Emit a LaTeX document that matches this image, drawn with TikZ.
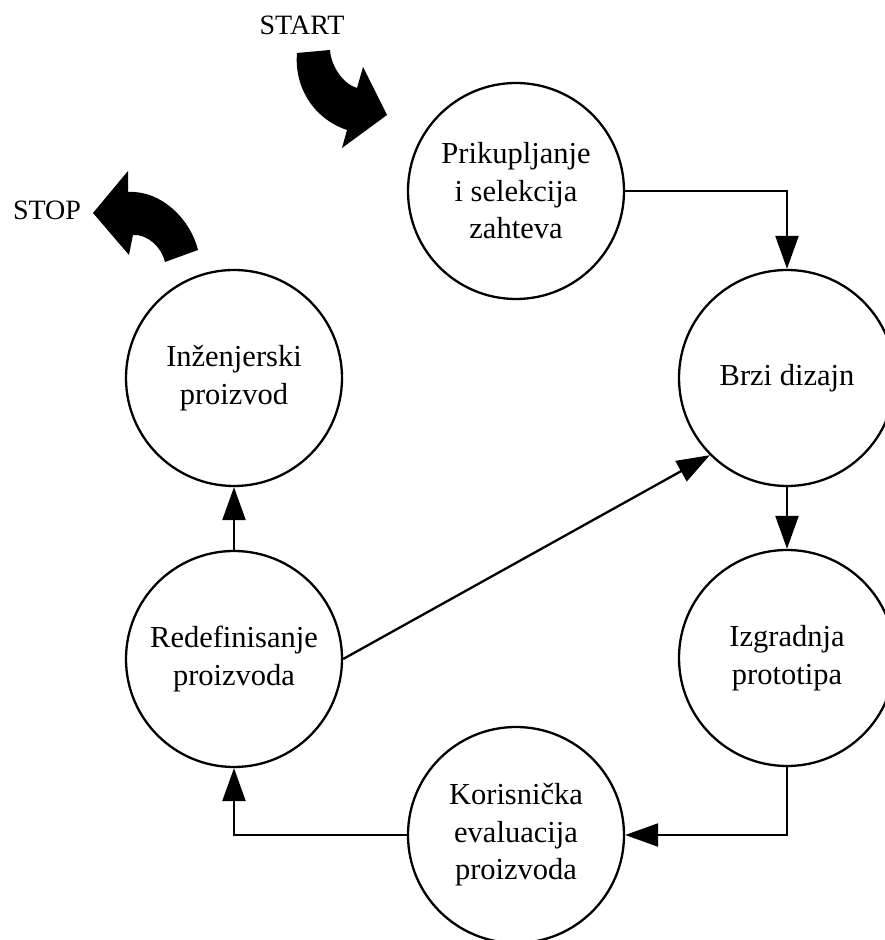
\documentclass[tikz,border=0pt]{standalone}
\usepackage{fontspec}
\setmainfont{Liberation Serif}
\usetikzlibrary{arrows.meta}

\begin{document}
\begin{tikzpicture}[x=1pt,y=1pt,
  stage/.style={circle, draw, line width=2.3pt, minimum size=216pt, inner sep=0pt,
    align=center, font=\fontsize{30.5}{37.5}\selectfont},
  flow/.style={line width=2.3pt, -{Triangle[length=33pt,width=23pt]}},
  label/.style={font=\fontsize{28}{32}\selectfont, anchor=base},
  bigarrow/.style={fill=black, draw=none}]
  \useasboundingbox (0,0) rectangle (885,940);

  % process stages
  \node[stage] (prik) at (516,749) {Prikupljanje\\i selekcija\\zahteva};
  \node[stage] (brzi) at (787,562) {Brzi dizajn};
  \node[stage] (izg)  at (787,282) {Izgradnja\\prototipa};
  \node[stage] (kor)  at (516,105) {Korisnička\\evaluacija\\proizvoda};
  \node[stage] (red)  at (234,281) {Redefinisanje\\proizvoda};
  \node[stage] (inz)  at (234,562) {Inženjerski\\proizvod};

  % start / stop labels
  \node[label] (start) at (302,905) {START};
  \node[label] (stop)  at (47,720) {STOP};

  % curved block arrow below START
  \fill[bigarrow] (297,887) -- (330,890)
    .. controls (331,874) and (343,856) .. (357,852)
    -- (363,873) -- (387,825) -- (342,792) -- (347,810)
    .. controls (314,821) and (294,852.5) .. (297,887) -- cycle;

  % curved block arrow next to STOP
  \fill[bigarrow] (93,727) -- (128,769) -- (128,748)
    .. controls (160,750) and (190,722) .. (198,690)
    -- (165,678)
    .. controls (162,692) and (148,706) .. (133,705)
    -- (129,685) -- cycle;

  % connectors
  \draw[flow] (prik.east) -| (brzi.north);
  \draw[flow] (brzi) -- (izg);
  \draw[flow] (izg.south) |- (kor.east);
  \draw[flow] (kor.west) -| (red.south);
  \draw[flow] (red) -- (inz);
  \draw[flow] (red.east) -- (brzi.225);
\end{tikzpicture}
\end{document}
